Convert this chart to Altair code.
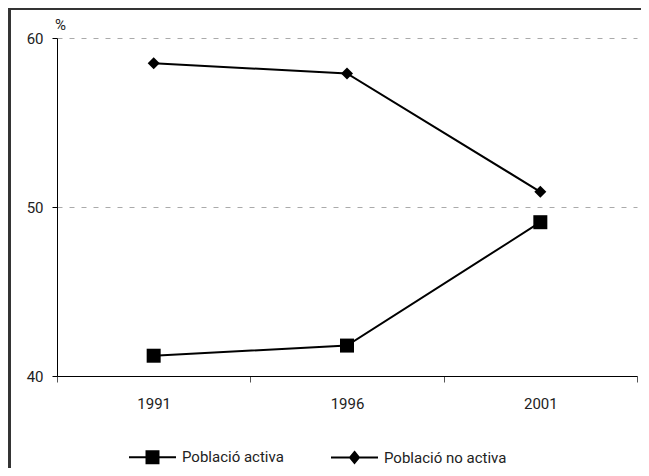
import altair as alt
import pandas as pd

years = ["1991", "1996", "2001"]
series_names = ["Població activa", "Població no activa"]
activa = [41.2, 41.8, 49.1]
no_activa = [58.5, 57.9, 50.9]
y_ticks = [40, 50, 60]

rows = []
for i, yr in enumerate(years):
    rows.append({"any": yr, "serie": series_names[0], "valor": activa[i]})
    rows.append({"any": yr, "serie": series_names[1], "valor": no_activa[i]})
df = pd.DataFrame(rows)

FONT = "Roboto, Liberation Sans, sans-serif"
FS = 15

x_enc = alt.X(
    "any:N",
    sort=years,
    bandPosition=0.5,
    scale=alt.Scale(type="band", paddingInner=0, paddingOuter=0),
    axis=alt.Axis(
        title=None, labelAngle=0, tickBand="extent", tickSize=6,
        tickColor="#555", domainColor="#000", labelPadding=14,
        labelFontSize=FS, labelColor="#222", labelFont=FONT, grid=False,
    ),
)
y_enc = alt.Y(
    "valor:Q",
    scale=alt.Scale(domain=[40, 60], nice=False, zero=False),
    axis=alt.Axis(
        values=y_ticks, title="%", titleAngle=0, titleX=3, titleY=-9,
        titleAlign="center", titleBaseline="alphabetic", titleFontSize=15,
        titleFontWeight="normal", titleFont=FONT, titleColor="#222",
        tickSize=5, tickColor="#000", domainColor="#000", labelPadding=9,
        labelFontSize=FS, labelColor="#222", labelFont=FONT,
        grid=True, gridDash=[5, 7], gridColor="#aaa", gridWidth=1,
    ),
)

base = alt.Chart(df)

lines = base.mark_line(color="black", strokeWidth=2).encode(
    x=x_enc, y=y_enc, detail="serie:N"
)

points = base.mark_point(filled=True, color="black", opacity=1).encode(
    x=x_enc, y=y_enc,
    shape=alt.Shape("serie:N", scale=alt.Scale(domain=series_names, range=["square", "diamond"]), legend=None),
    size=alt.Size("serie:N", scale=alt.Scale(domain=series_names, range=[196, 144]), legend=None),
)

legend_paths = [
    "M-1,0H1M-0.255,-0.255H0.255V0.255H-0.255Z",
    "M-1,0H1M0,-0.234L0.19,0L0,0.234L-0.19,0Z",
]
legend_layer = base.transform_filter("false").mark_point(
    filled=True, fill="black", stroke="black", strokeWidth=2, opacity=1
).encode(
    x=x_enc, y=y_enc,
    color=alt.Color(
        "serie:N",
        scale=alt.Scale(domain=series_names, range=["black", "black"]),
        legend=alt.Legend(
            title=None, orient="none", legendX=71, legendY=394.5,
            direction="horizontal", columns=2, columnPadding=43,
            symbolSize=2209, symbolStrokeWidth=2, symbolStrokeColor="black",
            symbolFillColor="black", labelOffset=5, labelFontSize=FS,
            labelFont=FONT, labelColor="#222", padding=0, labelLimit=400,
        ),
    ),
    shape=alt.Shape("serie:N", scale=alt.Scale(domain=series_names, range=legend_paths), legend=alt.Legend(title=None, orient="none", legendX=71, legendY=394.5)),
)

top_border = base.mark_rule(color="#333", strokeWidth=2).encode(
    x=alt.value(-48), x2=alt.value(590), y=alt.value(-29.5)
)
left_border = base.mark_rule(color="#333", strokeWidth=2).encode(
    x=alt.value(-47.5), y=alt.value(-31), y2=alt.value(440)
)

chart = (
    alt.layer(top_border, left_border, lines, points, legend_layer)
    .resolve_scale(shape="independent", size="independent", color="independent")
    .properties(
        width=580, height=338,
        autosize=alt.AutoSizeParams(type="none"),
        padding={"left": 49, "top": 30, "right": 4, "bottom": 92},
        background="white",
    )
    .configure_view(stroke=None)
)

chart.save("out.html", embed_options={"renderer": "svg", "actions": False})
